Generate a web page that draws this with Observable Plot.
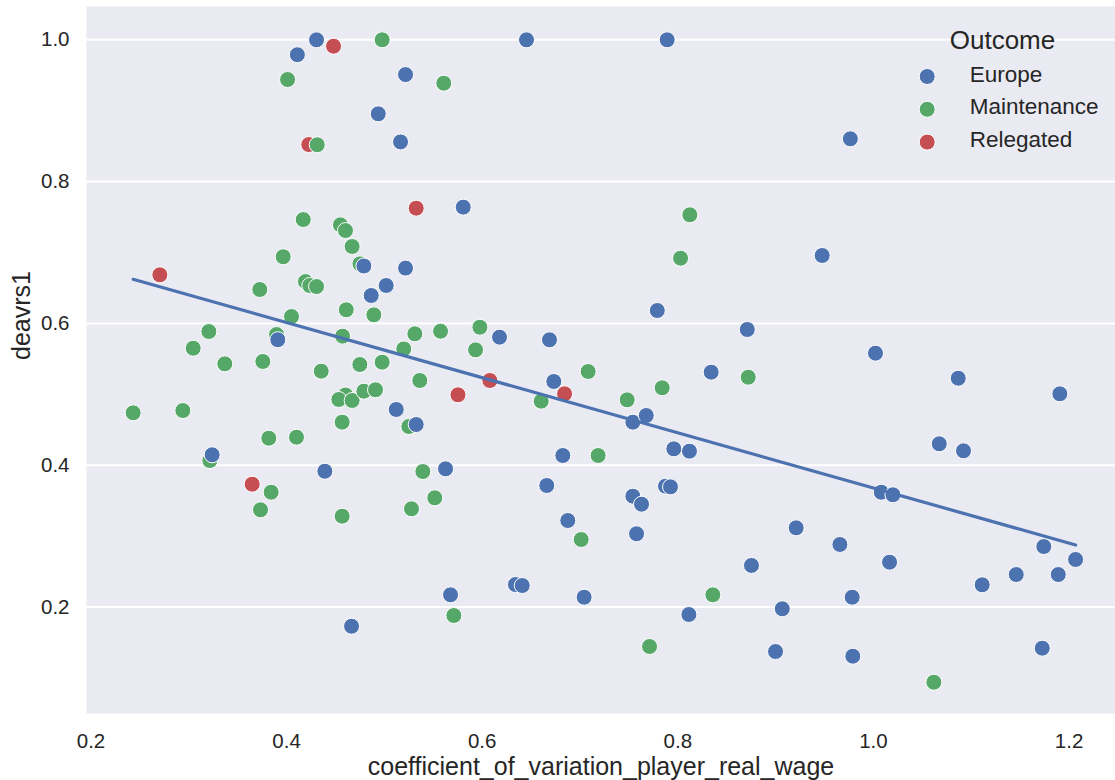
<!DOCTYPE html>
<html>
<head>
<meta charset="utf-8">
<script src="https://cdn.jsdelivr.net/npm/d3@7"></script>
<script src="https://cdn.jsdelivr.net/npm/@observablehq/plot@0.6"></script>
<style>
  html, body { margin: 0; padding: 0; background: #ffffff; }
  #chart svg { display: block; }
</style>
</head>
<body>
<div id="chart"></div>
<script>
// ---- data ----
const outcomes = ["Europe", "Maintenance", "Relegated"];
const colors = ["#4C72B0", "#55A868", "#C44E52"];

const europeX = [0.4306, 0.411, 0.4937, 0.5216, 0.5165, 0.6453, 0.7891, 0.9764, 0.5806, 0.479,
  0.5216, 0.5018, 0.4865, 0.391, 0.5121, 0.5325, 0.3239, 0.4391, 0.5625, 0.779,
  0.6177, 0.6688, 0.871, 0.8341, 0.6732, 0.754, 0.7677, 0.7959, 0.8119, 0.6824,
  0.9476, 1.0021, 1.0867, 1.1906, 1.0673, 1.0921, 1.008, 1.0199, 0.666, 0.754,
  0.7629, 0.7874, 0.7925, 0.6875, 0.7578, 0.5676, 0.634, 0.6409, 0.7042, 0.8113,
  0.4664, 0.921, 0.9657, 1.0165, 0.8753, 0.9783, 0.9068, 0.8999, 0.9789, 1.1112,
  1.146, 1.189, 1.1742, 1.2067, 1.1726];
const europeY = [1.0, 0.979, 0.8956, 0.951, 0.856, 1.0, 1.0, 0.8604, 0.764, 0.681,
  0.678, 0.6535, 0.6394, 0.577, 0.4786, 0.4574, 0.4147, 0.3915, 0.3949, 0.6182,
  0.5806, 0.5769, 0.5914, 0.5312, 0.5181, 0.4607, 0.4701, 0.4231, 0.4198, 0.4137,
  0.6958, 0.558, 0.5227, 0.5007, 0.4302, 0.4203, 0.3619, 0.3583, 0.3714, 0.3563,
  0.345, 0.3704, 0.3695, 0.322, 0.3033, 0.2172, 0.2317, 0.2303, 0.2138, 0.1894,
  0.1729, 0.3117, 0.2882, 0.2632, 0.2586, 0.2138, 0.1975, 0.1372, 0.1306, 0.2313,
  0.2458, 0.2458, 0.2853, 0.267, 0.1419];

const maintenanceX = [0.401, 0.4313, 0.4977, 0.5607, 0.417, 0.455, 0.4602, 0.467, 0.3965, 0.475,
  0.3726, 0.4193, 0.4237, 0.4306, 0.461, 0.4892, 0.405, 0.3205, 0.3897, 0.3045,
  0.3368, 0.3757, 0.4572, 0.5311, 0.5574, 0.5976, 0.5198, 0.5932, 0.4354, 0.4749,
  0.4977, 0.5362, 0.4602, 0.4534, 0.467, 0.479, 0.4909, 0.525, 0.4568, 0.2431,
  0.2939, 0.3818, 0.4101, 0.3215, 0.5393, 0.3842, 0.3733, 0.4568, 0.8123, 0.8028,
  0.7083, 0.872, 0.6603, 0.784, 0.7482, 0.7185, 0.5515, 0.5277, 0.7012, 0.571,
  0.8358, 0.7711, 1.0618];
const maintenanceY = [0.944, 0.852, 1.0, 0.9388, 0.7465, 0.739, 0.731, 0.7085, 0.694, 0.684,
  0.6478, 0.659, 0.6535, 0.652, 0.6192, 0.6121, 0.6097, 0.5886, 0.5843, 0.565,
  0.543, 0.5463, 0.582, 0.5853, 0.589, 0.5946, 0.564, 0.5627, 0.5326, 0.542,
  0.5453, 0.5195, 0.499, 0.4927, 0.4913, 0.5044, 0.5064, 0.4546, 0.4607, 0.4739,
  0.4771, 0.4381, 0.4395, 0.4066, 0.3911, 0.3619, 0.3371, 0.3281, 0.7532, 0.692,
  0.5322, 0.5241, 0.4903, 0.5092, 0.4922, 0.4137, 0.354, 0.3385, 0.2952, 0.188,
  0.2172, 0.1443, 0.0939];

const relegatedX = [0.448, 0.4227, 0.2704, 0.5325, 0.5752, 0.3648, 0.6078, 0.6842];
const relegatedY = [0.991, 0.8523, 0.6685, 0.7625, 0.4993, 0.3732, 0.5195, 0.5007];

const xTicks = [0.2, 0.4, 0.6, 0.8, 1.0, 1.2];
const yTicks = [0.2, 0.4, 0.6, 0.8, 1.0];
const xLabel = "coefficient_of_variation_player_real_wage";
const yLabel = "deavrs1";
const legendTitle = "Outcome";

// ---- table built from the arrays (draw order: Relegated, Maintenance, Europe) ----
const series = [
  {name: "Relegated", xs: relegatedX, ys: relegatedY},
  {name: "Maintenance", xs: maintenanceX, ys: maintenanceY},
  {name: "Europe", xs: europeX, ys: europeY}
];
const points = series.flatMap(s => s.xs.map((x, i) => ({x, y: s.ys[i], outcome: s.name})));

const FONT = "'Liberation Sans', Arial, 'Helvetica Neue', sans-serif";
const TEXT = "#262626";

const legendMarks = outcomes.flatMap((name, i) => [
  Plot.dot([name], {frameAnchor: "top-left", dx: 840.7, dy: 70 + i * 32.8, r: 8, fill: colors[i], stroke: "white", strokeWidth: 1}),
  Plot.text([name], {frameAnchor: "top-left", dx: 883.3, dy: 75 + i * 32.8, text: d => d, textAnchor: "start", lineAnchor: "bottom", fontSize: 22.5, fill: TEXT, fontFamily: FONT})
]);

const chart = Plot.plot({
  width: 1115,
  height: 780,
  marginLeft: 86,
  marginRight: 0,
  marginTop: 6,
  marginBottom: 67,
  style: {fontFamily: FONT, background: "white", overflow: "visible"},
  x: {domain: [0.1954, 1.2475]},
  y: {domain: [0.0498, 1.047]},
  color: {domain: outcomes, range: colors},
  marks: [
    Plot.frame({fill: "#EAEAF2", stroke: null}),
    Plot.gridY(yTicks, {stroke: "white", strokeOpacity: 1, strokeWidth: 2}),
    Plot.axisX(xTicks, {tickSize: 0, tickPadding: 20, tickFormat: d3.format(".1f"), fontSize: 20.5, fill: TEXT, label: null}),
    Plot.axisY(yTicks, {tickSize: 0, tickPadding: 17, tickFormat: d3.format(".1f"), fontSize: 20.5, fill: TEXT, label: null}),
    Plot.text([xLabel], {frameAnchor: "bottom", dy: 61, text: d => d, lineAnchor: "bottom", fontSize: 25, fill: TEXT, fontFamily: FONT}),
    Plot.text([yLabel], {frameAnchor: "left", dx: -74, rotate: -90, text: d => d, lineAnchor: "top", fontSize: 25, fill: TEXT, fontFamily: FONT}),
    Plot.dot(points, {x: "x", y: "y", fill: "outcome", r: 8, stroke: "white", strokeWidth: 1}),
    Plot.linearRegressionY(points, {x: "x", y: "y", ci: 0, stroke: "#4C72B0", strokeWidth: 3.2}),
    Plot.text([legendTitle], {frameAnchor: "top-left", dx: 916, dy: 42.3, text: d => d, textAnchor: "middle", lineAnchor: "bottom", fontSize: 26, fill: TEXT, fontFamily: FONT}),
    ...legendMarks
  ]
});

document.getElementById("chart").appendChild(chart);
</script>
</body>
</html>
